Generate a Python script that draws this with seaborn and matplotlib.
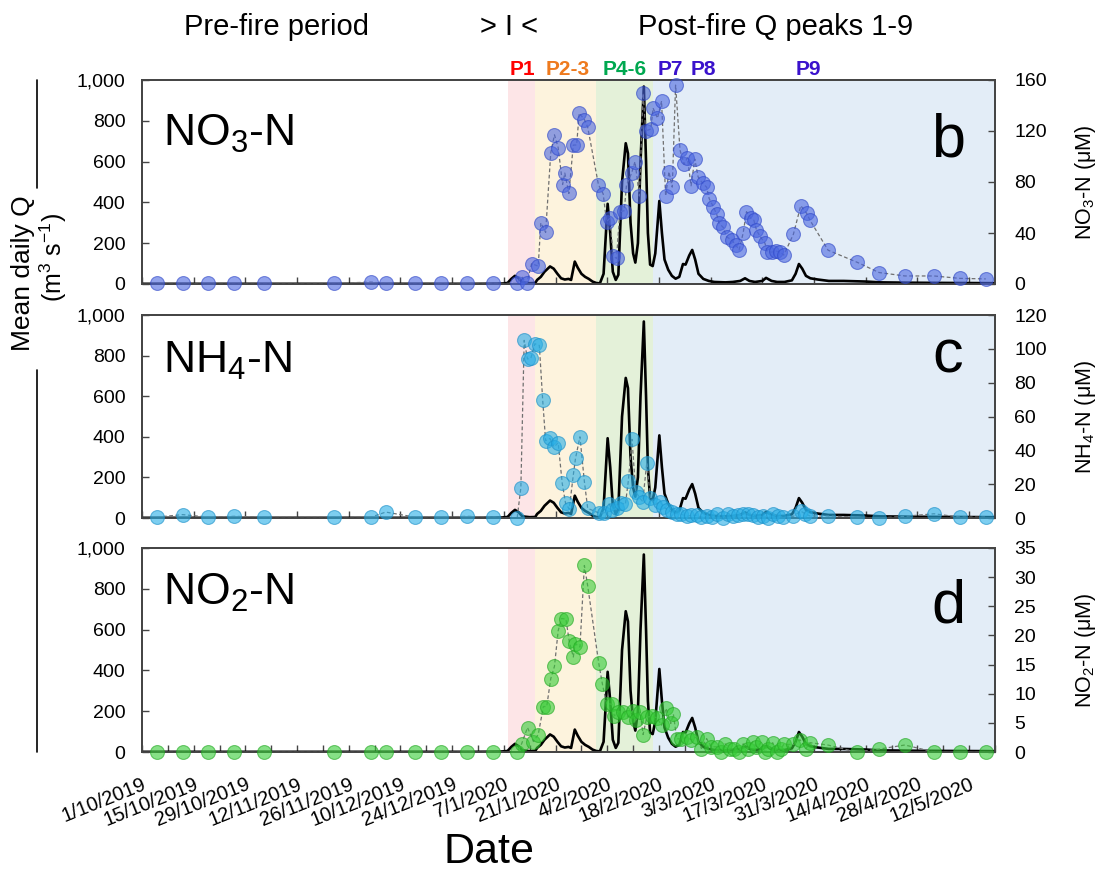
import numpy as np
import pandas as pd
import matplotlib
matplotlib.use("Agg")
import matplotlib.pyplot as plt
from matplotlib.lines import Line2D
from matplotlib.ticker import FuncFormatter
import seaborn as sns

sns.set_style("white")
plt.rcParams["font.family"] = ["Liberation Sans", "DejaVu Sans"]
plt.rcParams["mathtext.fontset"] = "custom"
plt.rcParams["mathtext.rm"] = "Liberation Sans"
plt.rcParams["mathtext.it"] = "Liberation Sans:italic"
plt.rcParams["mathtext.bf"] = "Liberation Sans:bold"
plt.rcParams["mathtext.default"] = "regular"
for key in ["text.color", "axes.labelcolor", "xtick.color", "ytick.color"]:
    plt.rcParams[key] = "black"

# ---- time base: days since 1 Oct 2019 ----
START = pd.Timestamp("2019-10-01")
END = pd.Timestamp("2020-05-19")

# ---- mean daily discharge Q (m3 s-1) ----
q_day = [0, 30, 60, 90, 97, 99, 100, 101, 102, 103, 105, 106.5, 107, 108, 109, 110.5,
         111.5, 112.5, 113.5, 114.5, 115.5, 116.2, 117.2, 118, 119, 120, 121, 122, 123,
         124, 125, 126.1, 126.8, 127.5, 128.3, 129, 130, 131, 131.6, 132.3, 133, 133.6,
         134.3, 135, 135.9, 136.5, 137, 137.6, 138.3, 139, 140.1, 140.8, 141.5, 142.5,
         143.5, 144.5, 145.5, 146.5, 147.2, 148.2, 149, 149.8, 150.7, 152, 153.5, 155,
         158, 160, 162, 163.3, 164.5, 166, 168, 169, 170.5, 172, 174, 176, 177, 177.9,
         178.8, 179.8, 181, 183, 186, 190, 196, 200, 210, 220, 231]
q_val = [1, 1, 1, 1, 2, 5, 25, 40, 28, 8, 4, 5, 20, 35, 60, 86,
         75, 50, 28, 22, 25, 20, 110, 80, 50, 35, 25, 12, 5,
         3, 50, 393, 250, 60, 20, 45, 500, 690, 640, 300, 150, 105,
         200, 600, 968, 600, 250, 95, 88, 150, 407, 250, 120, 70,
         40, 26, 35, 98, 95, 140, 167, 120, 50, 25, 15, 10,
         8, 10, 15, 28, 15, 10, 15, 30, 15, 10, 10, 18, 50, 98,
         75, 40, 28, 22, 15, 15, 12, 8, 6, 5, 4]

# ---- sampling times shared by the pre-fire grab samples ----
pre_day = [4, 11, 18, 25, 33, 52, 62, 66, 74, 81, 88, 95]

# ---- NO3-N (uM) ----
no3_day = pre_day + [
    101.5, 102.8, 104.2, 105.5, 107.3, 108.0, 109.3, 110.7, 111.7, 112.7, 113.9, 114.5,
    115.6, 116.8, 117.7, 118.4, 119.8, 120.7, 123.6, 124.9, 125.8, 126.7, 127.6, 128.5,
    129.4, 130.6, 131.2, 132.6, 133.5, 134.7, 135.7, 136.4, 137.8, 138.4, 139.6, 140.7,
    141.8, 142.7, 143.6, 144.5, 145.7, 146.8, 147.7, 148.7, 149.7, 150.6, 151.8, 152.9,
    153.6, 154.7, 155.6, 156.3, 157.4, 158.3, 159.7, 160.8, 161.7, 162.8, 163.7, 164.9,
    165.7, 166.4, 167.3, 168.7, 169.3, 170.5, 171.7, 172.8, 173.8, 176.4, 178.4, 180.0,
    180.9, 185.8, 193.7, 199.6, 206.6, 214.5, 221.5, 228.5]
no3_val = [0.5, 0.5, 0.5, 0.5, 0.5, 0.5, 1.5, 0.5, 0.5, 0.5, 0.5, 0.5] + [
    0.5, 5.8, 0.5, 16, 14, 48, 40.5, 103, 117, 107, 78, 87,
    71, 109, 109, 134, 129, 123, 78, 70.6, 49, 51.5, 22, 20,
    56.7, 57.5, 77.6, 87, 96, 69, 149.6, 120, 121.6, 138, 130, 143.5,
    69, 88, 76, 156, 105, 94, 99, 77, 98, 84, 79, 76,
    67, 60.6, 55, 47.6, 44.4, 37, 34.5, 30.6, 26.7, 40, 56.7, 51.5,
    50, 42.4, 37.6, 32, 25.4, 25, 25.8, 25, 22.7, 39, 61.4, 55.4,
    50, 26.5, 17, 9, 6.3, 6.3, 4.4, 4]

# ---- NH4-N (uM) ----
nh4_day = pre_day + [
    101.6, 102.6, 103.5, 104.4, 105.3, 106.4, 107.6, 108.5, 109.3, 110.5, 111.6, 112.7,
    113.8, 114.7, 115.7, 116.8, 117.4, 118.6, 119.8, 120.7, 123.7, 125.1, 126.5, 127.4,
    128.5, 129.6, 130.9, 131.7, 132.7, 133.7, 134.7, 135.6, 136.7, 137.7, 138.9, 140.3,
    141.2, 142.2, 143.4, 144.8, 146.1, 147.5, 148.8, 150.2, 151.5, 152.9, 154.4, 155.8,
    157.4, 158.8, 160.1, 161.5, 162.8, 164.2, 165.5, 166.9, 168.2, 169.6, 170.9, 172.1,
    173.6, 176.4, 178.4, 179.5, 180.9, 185.7, 193.7, 199.6, 206.6, 214.5, 221.5, 228.5]
nh4_val = [0.5, 2.0, 0.5, 1.0, 0.5, 0.5, 0.5, 3.5, 0.5, 0.5, 1.0, 0.5] + [
    0, 18, 105, 94, 94.4, 103, 102, 70, 45.7, 47, 42, 44.5,
    20.5, 8.7, 5.3, 25.4, 35.3, 48, 21.5, 5.7, 3, 3, 8.3, 4.7,
    5.7, 9, 8, 21.9, 46.5, 15.6, 12.2, 9.7, 32.7, 11.6, 7.7, 9.7,
    6.7, 5, 3.6, 2.6, 2.2, 1, 1.6, 1.6, 0.6, 1, 0.4, 2.2,
    0, 2.6, 1, 1.6, 2.2, 2.6, 1.6, 0.6, 1, 0, 2.6, 1,
    0.4, 1, 4.1, 2.6, 1.2, 1.2, 0.5, 0, 1, 2.5, 0.5, 0.5]

# ---- NO2-N (uM) ----
no2_day = pre_day + [
    101.6, 102.8, 104.4, 106.0, 107.3, 108.7, 109.6, 110.7, 111.7, 112.7, 113.6, 114.8,
    115.7, 116.8, 117.3, 118.6, 119.8, 120.7, 123.7, 124.7, 125.8, 127.2, 127.9, 129.0,
    130.3, 131.5, 132.9, 133.8, 134.9, 135.7, 136.7, 138.0, 139.4, 140.7, 141.9, 143.2,
    143.9, 144.8, 146.1, 147.5, 148.8, 150.2, 151.5, 152.9, 154.2, 155.6, 156.7, 157.9,
    159.2, 160.3, 161.7, 162.8, 164.0, 165.4, 166.4, 167.8, 168.7, 169.6, 170.8, 171.9,
    173.0, 173.8, 176.4, 178.2, 179.8, 180.9, 185.7, 193.5, 199.6, 206.6, 214.5, 221.5,
    228.5]
no2_val = [0] * 12 + [
    0, 1.4, 4.2, 1.8, 3, 7.8, 7.8, 12.6, 14.7, 20.8, 22.9, 22.8,
    19, 16.3, 18.6, 18, 32, 28.5, 15.2, 11.6, 8.3, 8.2, 6.2, 6.9,
    6.9, 6, 7.1, 5.5, 6.9, 3, 6, 6.1, 5.9, 4.6, 7.5, 4.9,
    6.5, 2.3, 2.2, 2.5, 2.1, 2.6, 0.6, 2.3, 0.9, 0.9, 0, 1.4,
    0.6, 0.5, 0, 1.4, 0.6, 1.7, 0.9, 1.7, 0, 0.5, 1.6, 0,
    0.5, 1.3, 1.3, 2.1, 0.6, 1.6, 1.2, 0, 0.5, 1.2, 0, 0,
    0]

# ---- post-fire discharge peak windows (days since start) ----
period_edges = [99, 106.5, 123, 138.5, 231]
period_colors = ["#fde5e7", "#fdf3dd", "#e4f1d9", "#e3edf7"]
peak_labels = ["P1", "P2-3", "P4-6", "P7", "P8", "P9"]
peak_label_x = [522, 568, 625, 670, 703, 808]
peak_label_colors = ["#ff0000", "#ee7a1e", "#00a850", "#3a12cc", "#3a12cc", "#3a12cc"]


def to_date(days):
    return START + pd.to_timedelta(np.asarray(days, dtype=float), unit="D")


q_df = pd.DataFrame({"date": to_date(q_day), "Q": q_val})

panels = [
    dict(day=no3_day, val=no3_val, ymax=160, step=40, face="#4a66e0", edge="#3048c8",
         name="NO$_3$-N", letter="b", right="NO$_3$-N (\u03bcM)",
         top=80, bottom=284, name_y=0.676, letter_y=0.623),
    dict(day=nh4_day, val=nh4_val, ymax=120, step=20, face="#27aee6", edge="#1a8fc8",
         name="NH$_4$-N", letter="c", right="NH$_4$-N (\u03bcM)",
         top=315, bottom=518, name_y=0.714, letter_y=0.719),
    dict(day=no2_day, val=no2_val, ymax=35, step=5, face="#36cc36", edge="#22a822",
         name="NO$_2$-N", letter="d", right="NO$_2$-N (\u03bcM)",
         top=548, bottom=752, name_y=0.72, letter_y=0.637),
]

W, H = 1105, 872
fig = plt.figure(figsize=(W / 100, H / 100), dpi=100)
left_px, right_px = 142, 995

major_dates = pd.date_range(START, pd.Timestamp("2020-05-12"), freq="14D")
minor_dates = pd.date_range(START, END, freq="7D")
spine_col = "#454545"

for i, p in enumerate(panels):
    ax = fig.add_axes([left_px / W, 1 - p["bottom"] / H,
                       (right_px - left_px) / W, (p["bottom"] - p["top"]) / H])
    for k, c in enumerate(period_colors):
        ax.axvspan(to_date([period_edges[k]])[0], to_date([period_edges[k + 1]])[0],
                   color=c, lw=0, zorder=0)
    sns.lineplot(data=q_df, x="date", y="Q", ax=ax, color="black", lw=1.9,
                 estimator=None, sort=False, zorder=3)
    ax.set_xlim(START, END)
    ax.set_ylim(0, 1000)
    ax.set_yticks(np.arange(0, 1001, 200))
    ax.yaxis.set_major_formatter(FuncFormatter(lambda v, _: f"{int(v):,}"))
    ax.set_xlabel("")
    ax.set_ylabel("")
    ax.xaxis.set_ticks_position("bottom")
    ax.set_xticks(major_dates)
    if i == 2:
        ax.set_xticks(minor_dates, minor=True)
        ax.set_xticklabels([f"{d.day}/{d.month}/{d.year}" for d in major_dates],
                           rotation=22, ha="right", rotation_mode="anchor", fontsize=14.5)
        ax.tick_params(axis="x", which="both", direction="in", length=5, width=1,
                       pad=16.5, color=spine_col)
    else:
        ax.set_xticklabels([])
        ax.tick_params(axis="x", direction="in", length=5, width=1, color=spine_col)
    ax.tick_params(axis="y", direction="in", length=5, width=1, labelsize=14, pad=12,
                   color=spine_col, left=True)
    for s in ax.spines.values():
        s.set_color(spine_col)
        s.set_linewidth(1.3)

    ax2 = ax.twinx()
    d = pd.DataFrame({"date": to_date(p["day"]), "c": p["val"]})
    sns.lineplot(data=d, x="date", y="c", ax=ax2, color="#707070", lw=0.9,
                 linestyle=(0, (3, 2)), estimator=None, sort=False, zorder=2)
    sns.scatterplot(data=d, x="date", y="c", ax=ax2, s=100, color=p["face"],
                    edgecolor=p["edge"], linewidth=0.8, alpha=0.6, zorder=4, clip_on=False)
    ax2.set_xlim(START, END)
    ax2.set_ylim(0, p["ymax"])
    ax2.set_yticks(np.arange(0, p["ymax"] + 0.1, p["step"]))
    ax2.set_ylabel("")
    ax2.set_xlabel("")
    ax2.tick_params(axis="y", direction="in", length=5, width=1, labelsize=14, pad=14,
                    color=spine_col, right=True)
    for s in ax2.spines.values():
        s.set_color(spine_col)
        s.set_linewidth(1.3)

    ax.text(0.025, p["name_y"], p["name"], transform=ax.transAxes, fontsize=32,
            ha="left", va="baseline", zorder=6)
    ax.text(0.945, p["letter_y"], p["letter"], transform=ax.transAxes, fontsize=44,
            ha="center", va="baseline", zorder=6)
    fig.text(1085 / W, 1 - (p["top"] + p["bottom"]) / 2 / H, p["right"], rotation=90,
             ha="center", va="center", fontsize=15.5)

# header annotations
fig.text(277 / W, 1 - 35 / H, "Pre-fire period", ha="center", va="baseline", fontsize=21)
fig.text(509 / W, 1 - 35 / H, "> I <", ha="center", va="baseline", fontsize=21)
fig.text(776 / W, 1 - 35 / H, "Post-fire Q peaks 1-9", ha="center", va="baseline", fontsize=21)
for lab, x, c in zip(peak_labels, peak_label_x, peak_label_colors):
    fig.text(x / W, 1 - 75 / H, lab, ha="center", va="baseline", fontsize=15,
             fontweight="bold", color=c)

# shared discharge axis title
fig.text(23 / W, 1 - 273 / H, "Mean daily Q", rotation=90, ha="center", va="center",
         fontsize=19)
fig.text(53 / W, 1 - 257 / H, "(m$^3$ s$^{-1}$)", rotation=90, ha="center", va="center",
         fontsize=18)
fig.add_artist(Line2D([37 / W, 37 / W], [1 - 80 / H, 1 - 188 / H],
                      transform=fig.transFigure, color="black", lw=1.2))
fig.add_artist(Line2D([37 / W, 37 / W], [1 - 370 / H, 1 - 752 / H],
                      transform=fig.transFigure, color="black", lw=1.2))

fig.text(489 / W, 1 - 863 / H, "Date", ha="center", va="baseline", fontsize=31)

fig.savefig("out.png", dpi=100)
